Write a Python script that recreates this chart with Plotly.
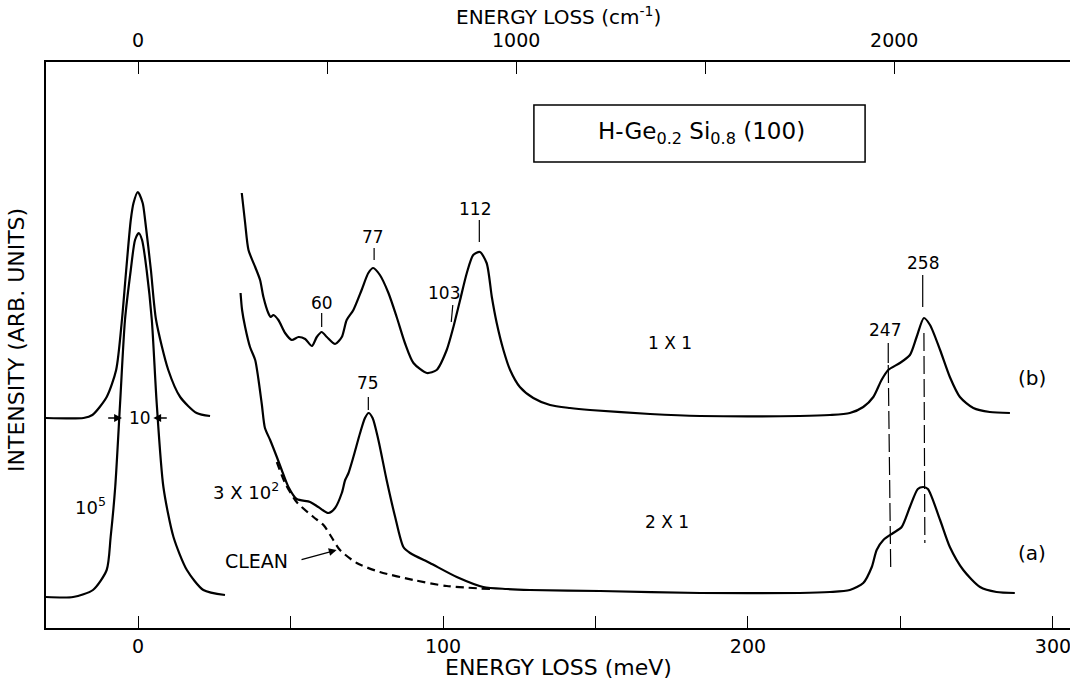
import plotly.graph_objects as go

# ---------------- data ----------------
# energy loss in meV, intensity in arbitrary units
b_elastic_mev = [-30.2, -17.9, -15.0, -10.3, -7.2, -5.3, -3.9, -2.4, -1.5, -0.1, 1.5, 2.3, 4.2, 5.9, 9.9, 13.8, 19.2, 23.6]
b_elastic_int = [210, 210, 213, 231, 258, 308, 358, 408, 425, 436, 425, 408, 358, 308, 258, 231, 215, 212]

a_elastic_mev = [-30.2, -21.3, -14.8, -10.3, -9.0, -7.5, -5.9, -4.3, -2.4, -1.0, 0.2, 1.3, 2.8, 4.5, 6.1, 8.3, 11.6, 16.0, 21.4, 28.5]
a_elastic_int = [31, 31, 38, 58, 91, 141, 225, 308, 358, 388, 395, 388, 358, 308, 225, 141, 91, 58, 38, 33]

b_mev = [34.0, 35.1, 36.2, 38.4, 40.0, 41.1, 42.7, 43.5, 44.4, 46.0, 48.2, 50.4, 52.6, 54.8, 57.0, 58.6,
         60.2, 61.9, 64.6, 66.8, 68.4, 70.6, 73.3, 75.5, 77.1, 79.3, 82.1, 84.8, 87.5, 90.3, 94.7, 97.9,
         101.2, 103.4, 105.6, 107.8, 109.9, 112.1, 114.3, 116.0, 117.6, 119.8, 122.0, 125.2, 129.6, 135.1,
         141.6, 148.2, 167.9, 184.3, 217.0, 226.9, 233.4, 237.8, 241.1, 243.8, 246.0, 249.8, 253.1, 255.3,
         257.7, 259.7, 263.0, 266.2, 269.5, 273.9, 279.3, 285.9]
b_int = [435, 405, 378, 361, 348, 331, 315, 311, 313, 308, 295, 288, 291, 289, 282, 291,
         296, 291, 284, 291, 308, 318, 338, 355, 360, 353, 335, 311, 285, 265, 255, 258,
         278, 301, 328, 355, 373, 376, 365, 331, 305, 278, 258, 241, 230, 223,
         220, 218, 214, 212, 212, 213, 215, 221, 231, 248, 258, 265, 273, 291,
         310, 303, 278, 251, 231, 220, 216, 215]

a_mev = [33.6, 34.1, 35.1, 36.7, 38.4, 39.4, 40.6, 41.6, 43.3, 45.5, 47.1, 49.3, 52.0, 56.4, 59.1, 62.4,
         64.6, 66.8, 67.9, 69.0, 70.6, 72.8, 74.4, 75.6, 76.9, 78.8, 81.5, 84.3, 87.0, 89.2, 95.7,
         104.5, 113.2, 120.9, 128.5, 151.5, 184.3, 217.0, 226.9, 233.4, 237.8, 240.6, 242.2, 244.4,
         247.6, 250.4, 253.1, 255.7, 257.5, 259.0, 263.0, 266.2, 270.6, 276.1, 281.5, 287.5]
a_int = [335, 318, 301, 281, 268, 250, 223, 200, 188, 171, 158, 141, 129, 126, 121, 115,
         120, 135, 148, 155, 171, 195, 210, 215, 210, 188, 148, 111, 81, 75, 65,
         51, 41, 39, 38, 37, 35, 35, 36, 38, 45, 61, 78, 88,
         95, 101, 121, 139, 141, 139, 108, 81, 58, 41, 36, 35]

clean_mev = [45.5, 48.2, 52.0, 57.5, 60.8, 63.0, 66.2, 71.7, 79.3, 90.3, 101.2, 115.4]
clean_int = [166, 145, 126, 111, 103, 93, 78, 65, 56, 48, 42, 39]

bottom_ticks = [0, 50, 100, 150, 200, 250, 300]
bottom_labels = ["0", "", "100", "", "200", "", "300"]
top_ticks = [0, 500, 1000, 1500, 2000]
top_labels = ["0", "", "1000", "", "2000"]
MEV_TO_CM = 8.0655

peak_names = ["60", "77", "103", "112", "75", "247", "258"]

X_RANGE = [-30.2, 305.6]
Y_RANGE = [0, 566]

FONT = "DejaVu Sans"

# ---------------- figure ----------------
fig = go.Figure()
line = dict(color="black", width=2.2, shape="spline", smoothing=0.7)

for xs, ys in [(b_elastic_mev, b_elastic_int), (a_elastic_mev, a_elastic_int),
               (b_mev, b_int), (a_mev, a_int)]:
    fig.add_trace(go.Scatter(x=xs, y=ys, mode="lines", line=line, hoverinfo="skip"))

fig.add_trace(go.Scatter(x=clean_mev, y=clean_int, mode="lines",
                         line=dict(color="black", width=2.2, dash="8px,5px", shape="spline", smoothing=0.7),
                         hoverinfo="skip"))

# dummy trace so the top (cm-1) axis is drawn
fig.add_trace(go.Scatter(x=[0], y=[None], xaxis="x2", yaxis="y", mode="lines", hoverinfo="skip"))

# ---------------- shapes ----------------
thin = dict(color="black", width=1.2)
shapes = []
for x0, y0, x1, y1 in [(111.9, 408, 111.9, 386), (77.4, 380, 77.4, 368), (60.2, 315, 60.2, 301),
                       (103.2, 323, 102.7, 306), (75.5, 231, 75.5, 218), (257.3, 353, 257.3, 321),
                       (246.0, 285, 246.0, 265)]:
    shapes.append(dict(type="line", xref="x", yref="y", x0=x0, y0=y0, x1=x1, y1=y1, line=thin))
shapes.append(dict(type="line", xref="x", yref="y", x0=246.0, y0=263, x1=246.8, y1=61,
                   line=dict(color="black", width=1.2, dash="18px,5px")))
shapes.append(dict(type="line", xref="x", yref="y", x0=257.7, y0=295, x1=258.0, y1=85,
                   line=dict(color="black", width=1.2, dash="18px,5px")))
shapes.append(dict(type="rect", xref="x", yref="y", x0=129.8, y0=466, x1=238.4, y1=523,
                   line=dict(color="black", width=1.5)))
fig.update_layout(shapes=shapes)

# ---------------- annotations ----------------
ann = []
def txt(x, y, s, size=17, xref="x", yref="y", angle=0):
    ann.append(dict(x=x, y=y, xref=xref, yref=yref, text=s, showarrow=False,
                    font=dict(size=size, family=FONT, color="black"),
                    xanchor="center", yanchor="middle", textangle=angle))

txt(60.2, 325, peak_names[0])
txt(77.0, 391, peak_names[1])
txt(100.3, 335, peak_names[2])
txt(110.5, 419, peak_names[3])
txt(75.3, 245, peak_names[4])
txt(244.9, 298, peak_names[5])
txt(257.3, 365, peak_names[6])
txt(174.4, 285, "1 X 1")
txt(173.3, 106, "2 X 1")
txt(293.0, 250, "(b)", size=20)
txt(293.0, 75, "(a)", size=20)
txt(0.7, 210, "10")
txt(-15.7, 122, "10<sup>5</sup>", size=18)
txt(35.4, 137, "3 X 10<sup>2</sup>", size=18)
txt(38.9, 67, "CLEAN", size=19)
txt(184.6, 495, "H-Ge<sub>0.2</sub> Si<sub>0.8</sub> (100)", size=23)

# axis titles
txt(0.5, (628 - 667) / 566, "ENERGY LOSS (meV)", size=22, xref="paper", yref="paper")
txt(0.5, (628 - 16) / 566, "ENERGY LOSS (cm<sup>-1</sup>)", size=20, xref="paper", yref="paper")
txt(-0.0283, 0.509, "INTENSITY (ARB. UNITS)", size=22, xref="paper", yref="paper", angle=-90)

def arrow(x_tip, y_tip, x_tail, y_tail):
    ann.append(dict(x=x_tip, y=y_tip, ax=x_tail, ay=y_tail, xref="x", yref="y", axref="x", ayref="y",
                    text="", showarrow=True, arrowhead=2, arrowsize=1.2, arrowwidth=1.3, arrowcolor="black"))

arrow(-5.3, 210, -10.3, 210)
arrow(5.0, 210, 9.9, 210)
arrow(65.1, 78, 53.1, 68)

fig.update_layout(annotations=ann)

axis_common = dict(showline=True, linecolor="black", linewidth=1.5, showgrid=False, zeroline=False,
                   ticks="inside", ticklen=12, tickwidth=1.2, tickcolor="black",
                   ticklabeloverflow="allow")

fig.update_layout(
    width=1070, height=680,
    margin=dict(l=46, r=0, t=62, b=52),
    plot_bgcolor="white", paper_bgcolor="white",
    showlegend=False,
    font=dict(family=FONT, color="black"),
    xaxis=dict(range=X_RANGE, tickmode="array", tickvals=bottom_ticks, ticktext=bottom_labels,
               ticklabelstandoff=0, tickfont=dict(size=19, family=FONT, color="black"), **axis_common),
    xaxis2=dict(range=[X_RANGE[0] * MEV_TO_CM, X_RANGE[1] * MEV_TO_CM], overlaying="x", side="top",
                anchor="y", tickmode="array", tickvals=top_ticks, ticktext=top_labels,
                ticklabelstandoff=6, tickfont=dict(size=19, family=FONT, color="black"), **axis_common),
    yaxis=dict(range=Y_RANGE, showline=True, linecolor="black", linewidth=1.5, showgrid=False,
               zeroline=False, showticklabels=False, ticks=""),
)

fig.write_html("out.html")
